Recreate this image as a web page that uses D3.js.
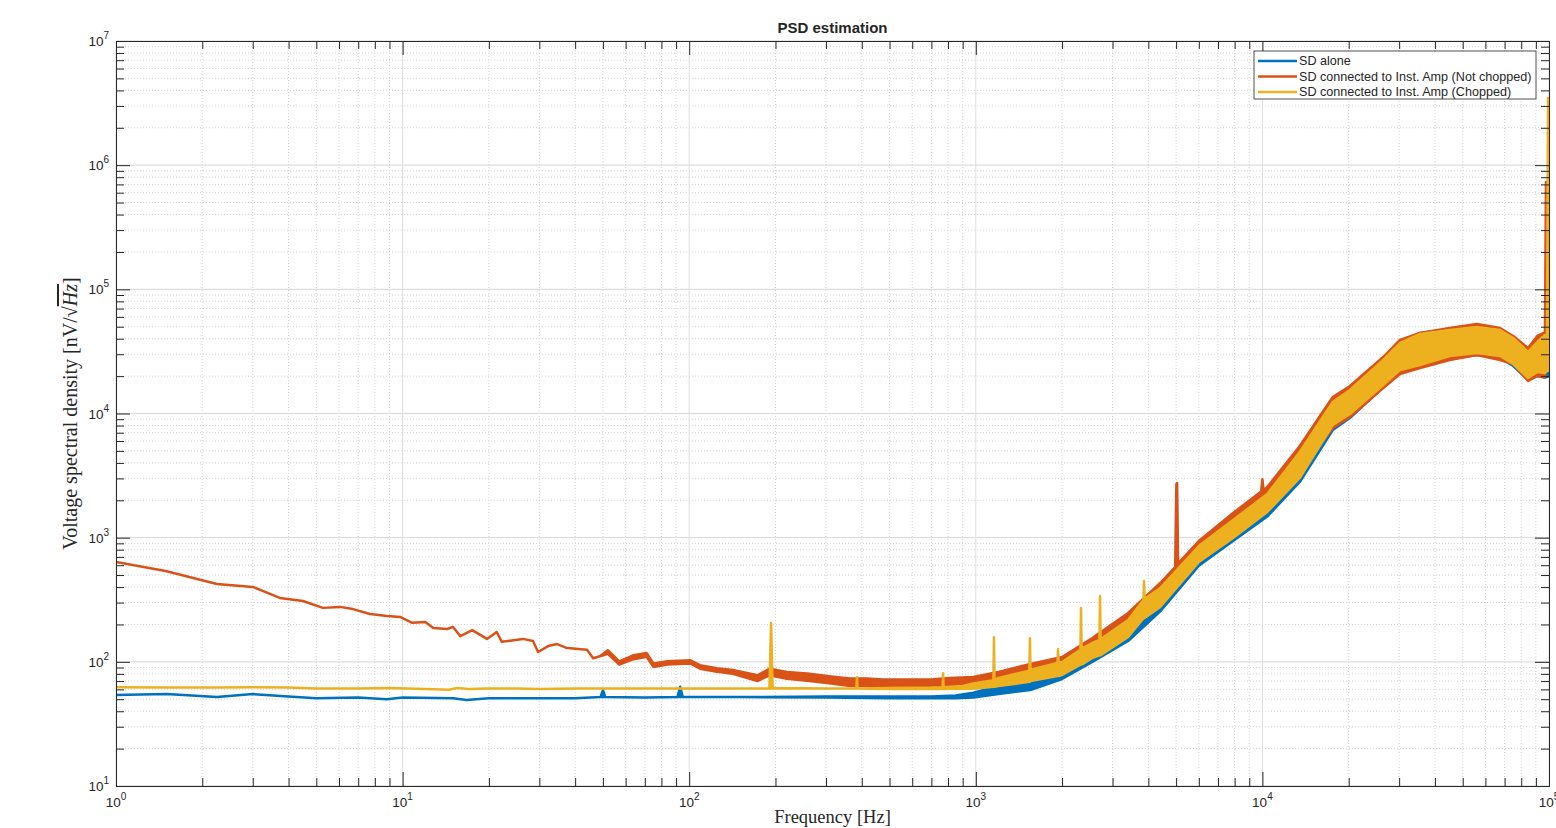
<!DOCTYPE html>
<html>
<head>
<meta charset="utf-8">
<script src="https://cdn.jsdelivr.net/npm/d3@7"></script>
<style>
body { margin: 0; background: #fff; overflow: hidden; }
text { font-family: "Liberation Sans", Arial, sans-serif; fill: #262626; }
.serif { font-family: "Liberation Serif", "Times New Roman", serif; }
</style>
</head>
<body>
<svg id="chart" width="1556" height="828"></svg>
<script>
// SD alone (blue)
let aloneFreq = [1, 1.5, 2.25, 3, 4, 5, 7, 8.8, 10, 15, 16.7, 20, 30, 40, 49, 50, 51, 70, 91, 93,
  95, 150, 300, 500, 700, 850, 980, 1200, 1550, 2000, 2550, 3400, 4400, 6000, 7900, 10400, 13500, 17600, 20200, 26400,
  30200, 35500, 45000, 56000, 67500, 75000, 84500, 91000, 96800, 100000];
let aloneLow = [54, 55, 52, 55, 52.5, 51, 51.5, 50, 51.5, 51, 49.2, 51, 51, 51, 52, 52, 52, 51.5, 52, 52,
  52, 52, 51.5, 51, 51, 51, 51.5, 55.1, 59.3, 72.7, 100, 147.2, 255, 595, 939.8, 1480, 2807, 7365, 9198, 16350,
  21590, 24130, 27480, 29590, 27985, 24130, 18610, 20040, 19500, 20000];
let aloneHigh = [54, 55, 52, 55, 52.5, 51, 51.5, 50, 51.5, 51, 49.2, 51, 51, 51, 52, 59, 52, 51.5, 52, 63,
  52, 52, 52.5, 52.5, 52.5, 53.5, 56.5, 63.9, 71.4, 89.2, 129.2, 190.8, 314.8, 766.5, 1265, 2086, 4546, 12847, 16049, 27985,
  38360, 44480, 47910, 51600, 47910, 41300, 32460, 40550, 43000, 40000];

// SD connected to Inst. Amp, not chopped (orange)
let notChoppedFreq = [1, 1.49, 2.25, 3, 3.73, 4.49, 5.27, 6.05, 6.71, 7.69, 8.83, 9.8, 10.8, 12, 12.8, 14.3, 15, 15.9, 17.5, 19.7,
  21.3, 22.2, 26.3, 28.5, 29.7, 32.2, 34.6, 37.5, 44, 46.2, 48.8, 52, 57, 64, 71, 75, 84, 101, 109, 125,
  142, 173, 191, 219, 258, 318, 364, 417, 474, 544, 623, 709, 813, 980, 1200, 1550, 2000, 2550, 3400, 4400,
  4960, 5010, 5040, 5080, 6000, 7900, 9900, 10000, 10100, 10400, 13500, 17600, 20200, 26400, 30200, 35500, 45000, 56000, 67500, 75000,
  84500, 91000, 96800, 97600, 98200, 100000];
let notChoppedLow = [637, 539, 424, 401, 327, 309, 272, 277, 266, 243, 234, 230, 206, 209, 187, 184, 191, 161, 180, 153,
  174, 145, 153, 147, 120, 134, 139, 129, 125, 107, 111, 116, 95, 105, 110, 91, 95, 97, 88, 83,
  80, 70, 78, 73, 70.5, 66.5, 64, 64, 63, 63, 63, 63, 64, 66.3, 71.4, 76.9, 86, 113.5, 167.6, 303.3,
  410, 420, 430, 440, 686, 1110, 1650, 1680, 1700, 1734, 3380, 7642, 9372, 16049, 20800, 23250, 26970, 29590, 26970, 25040,
  18270, 20040, 19500, 25000, 25000, 25000];
let notChoppedHigh = [637, 539, 424, 401, 327, 309, 272, 277, 266, 243, 234, 230, 206, 209, 187, 184, 191, 161, 180, 153,
  174, 145, 153, 147, 120, 134, 139, 129, 125, 107, 111, 124, 101, 113, 118, 97, 101, 103, 94, 89,
  86, 78, 88, 83, 80.5, 76, 73.5, 73.5, 72, 72, 72, 72.5, 74, 75.5, 82.8, 96, 109.4, 155.6, 247.4, 431.4,
  580, 2700, 2757, 620, 940, 1580, 2350, 2960, 2400, 2559, 5472, 13580, 16654, 28510, 39080, 44480, 48810, 52570, 48810, 42090,
  33690, 42090, 45000, 731600, 45000, 42000];

// SD connected to Inst. Amp, chopped (yellow)
let choppedFreq = [1, 1.5, 2.25, 3, 4, 5, 7, 9, 12, 14.5, 15.5, 17, 20, 25, 30, 40, 50, 70, 100, 150,
  190.5, 193, 195.5, 300, 383, 385, 387, 500, 700, 766, 769, 772, 900, 980, 1152, 1157, 1162, 1200, 1538, 1545,
  1552, 1928, 1936, 1944, 2000, 2318, 2329, 2340, 2550, 2700, 2713, 2726, 3400, 3845, 3863, 3881, 4400, 6000, 7900, 10400,
  13500, 17600, 20200, 26400, 30200, 35500, 45000, 56000, 67500, 75000, 84500, 91000, 96800, 98400, 99200, 100000];
let choppedLow = [62.5, 62, 62, 62.5, 62, 61, 61, 61.5, 60.5, 59.5, 61.5, 60.5, 61, 61, 60.5, 61, 61, 61, 61, 61,
  61, 61, 61, 61, 61, 61, 61, 60.5, 60.5, 60.5, 60.5, 60.5, 61, 60.8, 63, 63, 63, 63.9, 69, 69,
  70, 77, 77, 77, 78.3, 95, 95, 95, 107.4, 113, 113, 113, 158.5, 225, 225, 225, 276.4, 636.8, 993.8, 1610,
  3024, 8077, 9906, 16965, 22405, 24580, 29040, 30700, 29040, 25040, 19310, 21590, 21190, 22000, 22000, 25000];
let choppedHigh = [62.5, 62, 62, 62.5, 62, 61, 61, 61.5, 60.5, 59.5, 61.5, 60.5, 61, 61, 60.5, 61, 61, 61, 61, 61,
  61, 205, 61.5, 61, 61, 75, 61, 61.5, 62, 62.5, 81, 62.5, 64, 67, 71, 158, 72, 74.1, 85, 155,
  86.5, 98, 127, 99, 99.7, 125, 271, 128, 141.8, 150, 339, 152, 217.3, 315, 447, 320, 393.2, 856.5, 1388, 2247,
  4896, 12375, 15459, 26970, 36960, 43670, 47030, 49730, 47030, 40550, 31280, 37640, 42870, 42000, 3474000, 40000];

let seriesNames = ["SD alone", "SD connected to Inst. Amp (Not chopped)", "SD connected to Inst. Amp (Chopped)"];
let seriesColors = ["#0072bd", "#d95319", "#edb120"];

let xTickValues = [1, 10, 100, 1000, 10000, 100000];
let xTickExps = ["0", "1", "2", "3", "4", "5"];
let yTickValues = [10, 100, 1000, 10000, 100000, 1000000, 10000000];
let yTickExps = ["1", "2", "3", "4", "5", "6", "7"];

let pLeft = 116, pRight = 1549, pTop = 41, pBottom = 786;

let x = d3.scaleLog().domain([1, 1e5]).range([pLeft, pRight]);
let y = d3.scaleLog().domain([10, 1e7]).range([pBottom, pTop]);

let minorOf = ticks => {
  let out = [];
  ticks.slice(0, -1).forEach(t => { for (let k = 2; k <= 9; k++) out.push(t * k); });
  return out;
};
let xMinor = minorOf(xTickValues);
let yMinor = minorOf(yTickValues);

let svg = d3.select("#chart");

svg.append("defs").append("clipPath").attr("id", "plotClip")
  .append("rect").attr("x", pLeft).attr("y", pTop).attr("width", pRight - pLeft).attr("height", pBottom - pTop);

// grid
let grid = svg.append("g");
grid.selectAll("line.xmin").data(xMinor).join("line")
  .attr("x1", d => x(d)).attr("x2", d => x(d)).attr("y1", pTop).attr("y2", pBottom)
  .attr("stroke", "#d4d4d4").attr("stroke-dasharray", "1,2");
grid.selectAll("line.ymin").data(yMinor).join("line")
  .attr("y1", d => y(d)).attr("y2", d => y(d)).attr("x1", pLeft).attr("x2", pRight)
  .attr("stroke", "#d4d4d4").attr("stroke-dasharray", "1,2");
grid.selectAll("line.xmaj").data(xTickValues).join("line")
  .attr("x1", d => x(d)).attr("x2", d => x(d)).attr("y1", pTop).attr("y2", pBottom)
  .attr("stroke", "#dedede");
grid.selectAll("line.ymaj").data(yTickValues).join("line")
  .attr("y1", d => y(d)).attr("y2", d => y(d)).attr("x1", pLeft).attr("x2", pRight)
  .attr("stroke", "#dedede").attr("stroke-width", 1.3);

// series
let series = [
  {f: aloneFreq, lo: aloneLow, hi: aloneHigh},
  {f: notChoppedFreq, lo: notChoppedLow, hi: notChoppedHigh},
  {f: choppedFreq, lo: choppedLow, hi: choppedHigh}
];

let area = d3.area()
  .x(d => x(d[0]))
  .y0(d => y(d[1]))
  .y1(d => y(d[2]));

let plot = svg.append("g").attr("clip-path", "url(#plotClip)");
series.forEach((s, i) => {
  let pts = s.f.map((f, j) => [f, s.lo[j], s.hi[j]]);
  plot.append("path")
    .datum(pts)
    .attr("d", area)
    .attr("fill", seriesColors[i])
    .attr("stroke", seriesColors[i])
    .attr("stroke-width", 2.5)
    .attr("stroke-linejoin", "round");
});

// axes, box style with inward ticks
let axisCol = "#262626";
let addAxis = (gen, tr) => {
  let g = svg.append("g").attr("transform", tr).call(gen);
  g.selectAll("path, line").attr("stroke", axisCol);
  g.selectAll("text").remove();
  return g;
};
addAxis(d3.axisBottom(x).tickValues(xMinor).tickSize(-8).tickSizeOuter(0), "translate(0," + pBottom + ")");
addAxis(d3.axisBottom(x).tickValues(xTickValues).tickSize(-14).tickSizeOuter(0), "translate(0," + pBottom + ")");
addAxis(d3.axisTop(x).tickValues(xMinor).tickSize(-8).tickSizeOuter(0), "translate(0," + pTop + ")");
addAxis(d3.axisTop(x).tickValues(xTickValues).tickSize(-14).tickSizeOuter(0), "translate(0," + pTop + ")");
addAxis(d3.axisLeft(y).tickValues(yMinor).tickSize(-8).tickSizeOuter(0), "translate(" + pLeft + ",0)");
addAxis(d3.axisLeft(y).tickValues(yTickValues).tickSize(-14).tickSizeOuter(0), "translate(" + pLeft + ",0)");
addAxis(d3.axisRight(y).tickValues(yMinor).tickSize(-8).tickSizeOuter(0), "translate(" + pRight + ",0)");
addAxis(d3.axisRight(y).tickValues(yTickValues).tickSize(-14).tickSizeOuter(0), "translate(" + pRight + ",0)");

// tick labels 10^n
svg.append("g").selectAll("text").data(xTickValues).join("text")
  .attr("x", d => x(d)).attr("y", 807)
  .attr("text-anchor", "middle").attr("font-size", 13.5).attr("fill", "#333")
  .each(function(d, i) {
    let t = d3.select(this);
    t.append("tspan").text("10");
    t.append("tspan").attr("dy", -7).attr("font-size", 10).text(xTickExps[i]);
  });

svg.append("g").selectAll("text").data(yTickValues).join("text")
  .attr("x", 109).attr("y", d => y(d) + 5)
  .attr("text-anchor", "end").attr("font-size", 13.5).attr("fill", "#333")
  .each(function(d, i) {
    let t = d3.select(this);
    t.append("tspan").text("10");
    t.append("tspan").attr("dy", -7).attr("font-size", 10).text(yTickExps[i]);
  });

// title and axis labels
svg.append("text")
  .attr("x", (pLeft + pRight) / 2).attr("y", 33)
  .attr("text-anchor", "middle").attr("font-size", 15).attr("font-weight", "bold")
  .attr("fill", "#000")
  .text("PSD estimation");

svg.append("text").attr("class", "serif")
  .attr("x", (pLeft + pRight) / 2).attr("y", 823)
  .attr("text-anchor", "middle").attr("font-size", 18.5)
  .text("Frequency [Hz]");

let yl = svg.append("text").attr("class", "serif")
  .attr("transform", "translate(77," + ((pTop + pBottom) / 2) + ") rotate(-90)")
  .attr("text-anchor", "middle").attr("font-size", 20);
yl.append("tspan").text("Voltage spectral density [nV/");
yl.append("tspan").text("\u221A");
yl.append("tspan").attr("font-style", "italic").style("text-decoration", "overline").text("Hz");
yl.append("tspan").text("]");

// legend
let lg = svg.append("g");
lg.append("rect")
  .attr("x", 1254).attr("y", 51).attr("width", 282).attr("height", 48)
  .attr("fill", "#fff").attr("stroke", axisCol).attr("stroke-width", 0.8);
seriesNames.forEach((name, i) => {
  let ly = 61 + i * 15.5;
  lg.append("line")
    .attr("x1", 1258).attr("x2", 1297).attr("y1", ly).attr("y2", ly)
    .attr("stroke", seriesColors[i]).attr("stroke-width", 2.5);
  lg.append("text")
    .attr("x", 1299).attr("y", ly + 4)
    .attr("font-size", 12.6).attr("fill", "#000")
    .text(name);
});
</script>
</body>
</html>
